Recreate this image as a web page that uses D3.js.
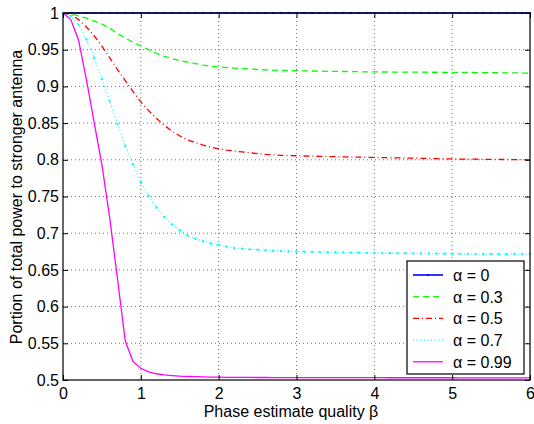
<!DOCTYPE html>
<html>
<head>
<meta charset="utf-8">
<script src="https://cdn.jsdelivr.net/npm/d3@7"></script>
<style>
  body { margin: 0; background: #fff; }
  svg { display: block; font-family: "Liberation Sans", Arial, Helvetica, sans-serif; }
</style>
</head>
<body>
<svg id="chart" width="534" height="424"></svg>
<script>
// Phase estimate quality (x values)
const beta = [
  0.0, 0.1, 0.2, 0.3, 0.4, 0.5, 0.6, 0.7, 0.8, 0.9,
  1.0, 1.1, 1.2, 1.3, 1.4, 1.5, 1.6, 1.7, 1.8, 1.9,
  2.0, 2.1, 2.2, 2.3, 2.4, 2.5, 2.6, 2.7, 2.8, 2.9,
  3.0, 3.1, 3.2, 3.3, 3.4, 3.5, 3.6, 3.7, 3.8, 3.9,
  4.0, 4.1, 4.2, 4.3, 4.4, 4.5, 4.6, 4.7, 4.8, 4.9,
  5.0, 5.1, 5.2, 5.3, 5.4, 5.5, 5.6, 5.7, 5.8, 5.9,
  6.0
];

// Portion of total power to the stronger antenna, one list per alpha
const alpha0 = [
  1, 1, 1, 1, 1, 1, 1, 1, 1, 1,
  1, 1, 1, 1, 1, 1, 1, 1, 1, 1,
  1, 1, 1, 1, 1, 1, 1, 1, 1, 1,
  1, 1, 1, 1, 1, 1, 1, 1, 1, 1,
  1, 1, 1, 1, 1, 1, 1, 1, 1, 1,
  1, 1, 1, 1, 1, 1, 1, 1, 1, 1,
  1
];
const alpha03 = [
  1.000, 0.999, 0.996, 0.993, 0.989, 0.985, 0.979, 0.972, 0.966, 0.960,
  0.955, 0.950, 0.945, 0.941, 0.938, 0.935, 0.933, 0.931, 0.929, 0.9275,
  0.9265, 0.9257, 0.925, 0.9243, 0.9236, 0.923, 0.9225, 0.9221, 0.9218, 0.9216,
  0.9214, 0.9212, 0.921, 0.9208, 0.9206, 0.9205, 0.9203, 0.9201, 0.920, 0.9198,
  0.9197, 0.9196, 0.9196, 0.9195, 0.9195, 0.9194, 0.9194, 0.9193, 0.9193, 0.9192,
  0.9192, 0.9191, 0.919, 0.9189, 0.9188, 0.9187, 0.9186, 0.9185, 0.9184, 0.9182,
  0.918
];
const alpha05 = [
  1.000, 0.998, 0.991, 0.981, 0.969, 0.955, 0.939, 0.923, 0.908, 0.893,
  0.879, 0.867, 0.8565, 0.847, 0.839, 0.8325, 0.827, 0.8235, 0.820, 0.8172,
  0.815, 0.8133, 0.812, 0.8107, 0.8095, 0.8085, 0.8075, 0.8068, 0.806, 0.8057,
  0.8055, 0.8052, 0.805, 0.8047, 0.8045, 0.8042, 0.804, 0.8038, 0.8036, 0.8034,
  0.8032, 0.803, 0.8028, 0.8026, 0.8024, 0.8022, 0.802, 0.8018, 0.8016, 0.8014,
  0.8012, 0.801, 0.8009, 0.8008, 0.8007, 0.8006, 0.8005, 0.8004, 0.8003, 0.8002,
  0.800
];
const alpha07 = [
  1.000, 0.996, 0.984, 0.964, 0.939, 0.910, 0.880, 0.849, 0.819, 0.794,
  0.769, 0.751, 0.735, 0.722, 0.712, 0.704, 0.697, 0.6925, 0.689, 0.686,
  0.684, 0.682, 0.680, 0.679, 0.678, 0.6775, 0.677, 0.676, 0.6758, 0.6752,
  0.675, 0.6748, 0.6746, 0.6744, 0.6742, 0.674, 0.6738, 0.6736, 0.6734, 0.6732,
  0.673, 0.6729, 0.6728, 0.6727, 0.6726, 0.6725, 0.6724, 0.6723, 0.6722, 0.6721,
  0.672, 0.6719, 0.6719, 0.6718, 0.6718, 0.6717, 0.6717, 0.6716, 0.6716, 0.6715,
  0.6715
];
const alpha099 = [
  1.000, 0.991, 0.963, 0.910, 0.851, 0.793, 0.721, 0.638, 0.553, 0.525,
  0.516, 0.511, 0.5085, 0.507, 0.506, 0.5052, 0.5048, 0.5045, 0.5042, 0.504,
  0.5038, 0.5037, 0.5036, 0.5035, 0.5035, 0.5034, 0.5034, 0.5033, 0.5033, 0.5033,
  0.5032, 0.5032, 0.5032, 0.5032, 0.5032, 0.5032, 0.5032, 0.5032, 0.5032, 0.5032,
  0.5032, 0.5031, 0.5031, 0.5031, 0.5031, 0.5031, 0.5031, 0.5031, 0.5031, 0.5031,
  0.5031, 0.503, 0.503, 0.503, 0.503, 0.503, 0.503, 0.503, 0.503, 0.503,
  0.503
];

const seriesLabels = ["α = 0", "α = 0.3", "α = 0.5", "α = 0.7", "α = 0.99"];
const xTicks = [0, 1, 2, 3, 4, 5, 6];
const yTicks = [0.5, 0.55, 0.6, 0.65, 0.7, 0.75, 0.8, 0.85, 0.9, 0.95, 1];

const series = [
  { label: seriesLabels[0], values: alpha0,   color: "#0000ff", dash: null,      width: 1.6, marker: 1.1 },
  { label: seriesLabels[1], values: alpha03,  color: "#00ff00", dash: "6,4",     width: 1.3, marker: 0 },
  { label: seriesLabels[2], values: alpha05,  color: "#ff0000", dash: "6,3,1,3", width: 1.3, marker: 0 },
  { label: seriesLabels[3], values: alpha07,  color: "#00ffff", dash: "1,2.6",   width: 1.2, marker: 1.2 },
  { label: seriesLabels[4], values: alpha099, color: "#ff00ff", dash: null,      width: 1.3, marker: 0 }
];

const svg = d3.select("#chart");
svg.append("rect").attr("width", 534).attr("height", 424).attr("fill", "#fff");

const x = d3.scaleLinear().domain([0, 6]).range([63, 530]);
const y = d3.scaleLinear().domain([0.5, 1]).range([380, 13]);

// dotted grid
const grid = svg.append("g").attr("stroke", "#6f6f6f").attr("stroke-width", 1).attr("stroke-dasharray", "1,3");
grid.selectAll("line.gx").data(xTicks.slice(1, -1)).join("line")
  .attr("x1", d => x(d)).attr("x2", d => x(d)).attr("y1", y(1)).attr("y2", y(0.5));
grid.selectAll("line.gy").data(yTicks.slice(1, -1)).join("line")
  .attr("y1", d => y(d)).attr("y2", d => y(d)).attr("x1", x(0)).attr("x2", x(6));

// curves
const line = d3.line().x((d, i) => x(beta[i])).y(d => y(d));
series.forEach(s => {
  svg.append("path")
    .attr("d", line(s.values))
    .attr("fill", "none")
    .attr("stroke", s.color)
    .attr("stroke-width", s.width)
    .attr("stroke-dasharray", s.dash);
  if (s.marker) {
    svg.append("g").selectAll("circle").data(s.values).join("circle")
      .attr("cx", (d, i) => x(beta[i])).attr("cy", d => y(d))
      .attr("r", s.marker).attr("fill", s.color);
  }
});

// axes with inward ticks
const fontSize = 16;
const axB = svg.append("g").attr("transform", `translate(0,${y(0.5)})`)
  .call(d3.axisBottom(x).tickValues(xTicks).tickFormat(d3.format("d")).tickSize(-5).tickSizeOuter(0).tickPadding(8));
const axT = svg.append("g").attr("transform", `translate(0,${y(1)})`)
  .call(d3.axisTop(x).tickValues(xTicks).tickFormat("").tickSize(-5).tickSizeOuter(0));
const axL = svg.append("g").attr("transform", `translate(${x(0)},0)`)
  .call(d3.axisLeft(y).tickValues(yTicks).tickFormat(d => d3.format("")(+d.toFixed(2))).tickSize(-5).tickSizeOuter(0).tickPadding(4));
const axR = svg.append("g").attr("transform", `translate(${x(6)},0)`)
  .call(d3.axisRight(y).tickValues(yTicks).tickFormat("").tickSize(-5).tickSizeOuter(0));
[axB, axT, axL, axR].forEach(a => {
  a.select(".domain").remove();
  a.selectAll(".tick line").attr("stroke", "#000").attr("stroke-width", 1);
  a.selectAll("text").attr("fill", "#000").attr("font-size", fontSize)
    .attr("font-family", "'Liberation Sans', Arial, Helvetica, sans-serif");
});

// axes box
svg.append("rect")
  .attr("x", x(0)).attr("y", y(1))
  .attr("width", x(6) - x(0)).attr("height", y(0.5) - y(1))
  .attr("fill", "none").attr("stroke", "#000").attr("stroke-width", 1.2);

// axis titles
svg.append("text")
  .attr("x", 291).attr("y", 416.5)
  .attr("text-anchor", "middle").attr("font-size", fontSize).attr("fill", "#000")
  .text("Phase estimate quality β");
svg.append("text")
  .attr("transform", "translate(21.5,197) rotate(-90)")
  .attr("text-anchor", "middle").attr("font-size", fontSize).attr("fill", "#000")
  .text("Portion of total power to stronger antenna");

// legend
const leg = svg.append("g");
leg.append("rect")
  .attr("x", 407).attr("y", 261).attr("width", 117).attr("height", 113)
  .attr("fill", "#fff").attr("stroke", "#000").attr("stroke-width", 1.2);
series.forEach((s, i) => {
  const cy = 275 + i * 21.7;
  leg.append("line")
    .attr("x1", 413).attr("x2", 443).attr("y1", cy).attr("y2", cy)
    .attr("stroke", s.color).attr("stroke-width", s.width)
    .attr("stroke-dasharray", s.dash);
  if (i === 0) {
    leg.append("circle").attr("cx", 428).attr("cy", cy).attr("r", 1.1).attr("fill", s.color);
  }
  leg.append("text")
    .attr("x", 453).attr("y", cy + 5.8)
    .attr("font-size", fontSize).attr("fill", "#000")
    .text(s.label);
});
</script>
</body>
</html>
